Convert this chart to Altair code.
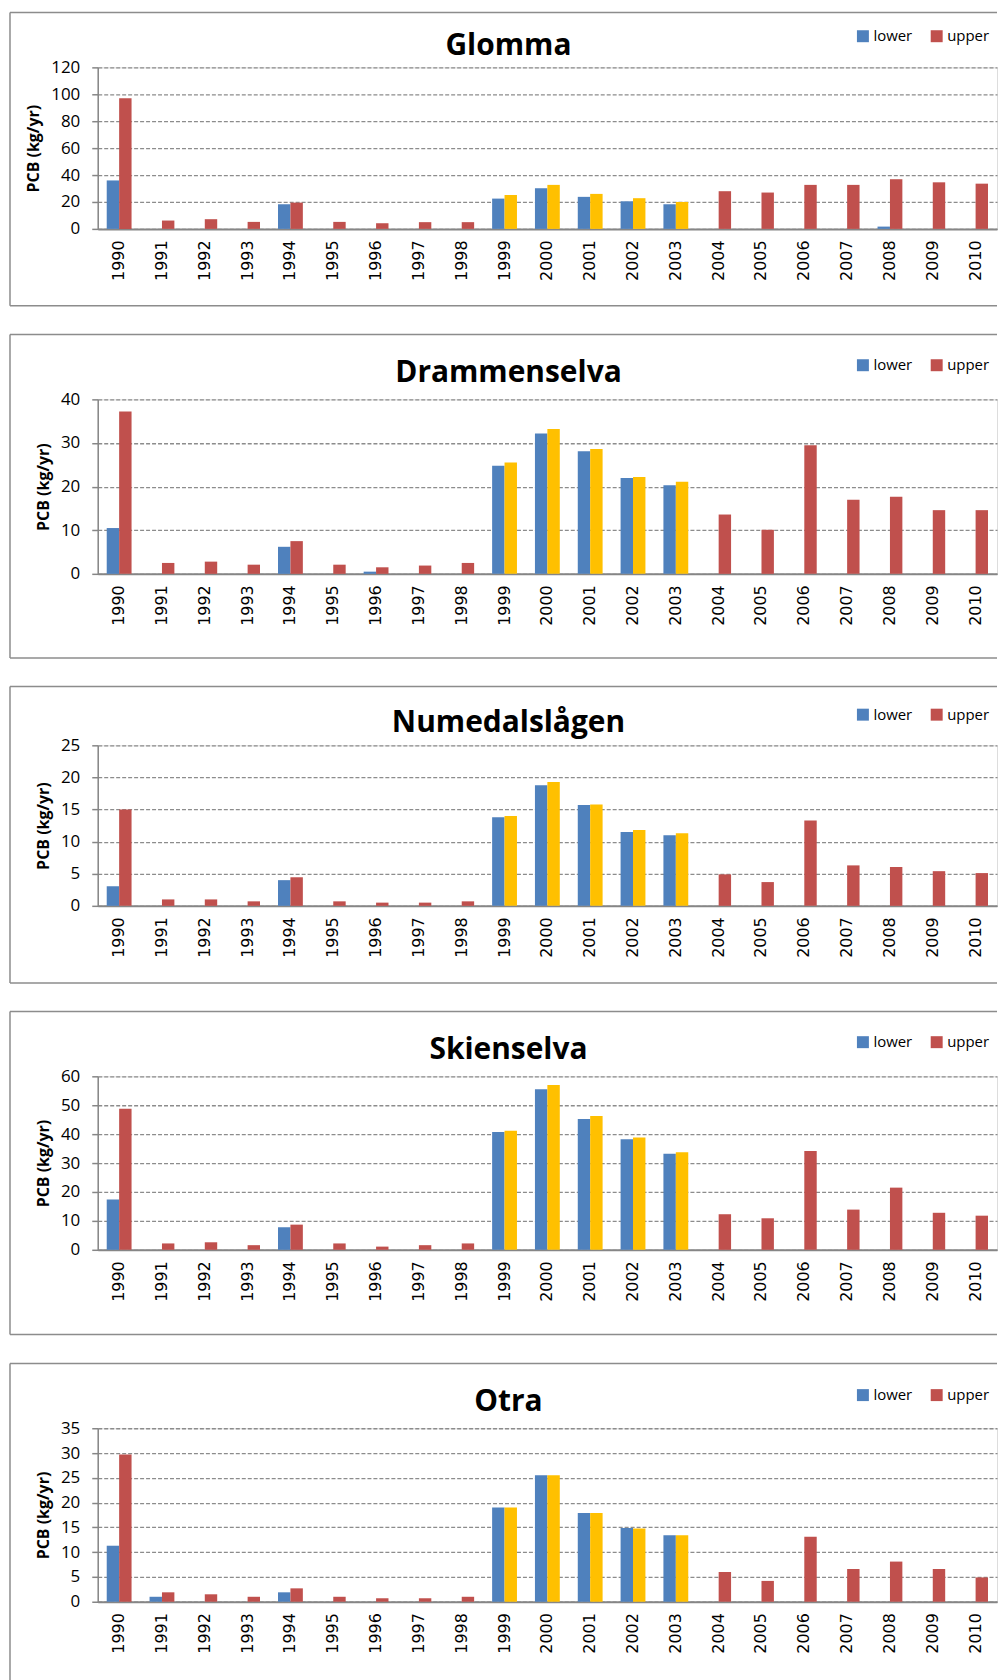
import altair as alt
import pandas as pd

years = list(range(1990, 2011))
yellow_years = [1999, 2000, 2001, 2002, 2003]

rivers = ["Glomma", "Drammenselva", "Numedalslågen", "Skienselva", "Otra"]

glomma_lower = [36, None, None, None, 18.3, None, None, None, None, 22.5, 30.2,
                23.8, 20.5, 18.3, None, None, None, None, 1.7, None, None]
glomma_upper = [97, 6.2, 7.2, 5.2, 19.5, 5.2, 4.2, 5, 5, 25.2, 32.7,
                26, 22.8, 20, 28, 27, 32.7, 32.7, 36.9, 34.6, 33.6]

dramm_lower = [10.5, None, None, None, 6.2, None, 0.5, None, None, 24.8, 32.2,
               28.1, 22.0, 20.3, None, None, None, None, None, None, None]
dramm_upper = [37.2, 2.5, 2.8, 2.1, 7.5, 2.1, 1.5, 1.9, 2.5, 25.5, 33.2,
               28.6, 22.2, 21.1, 13.6, 10.1, 29.5, 17.0, 17.7, 14.6, 14.6]

numed_lower = [3.05, None, None, None, 4.0, None, None, None, None, 13.8, 18.8,
               15.7, 11.5, 11.0, None, None, None, None, None, None, None]
numed_upper = [15.0, 1.0, 1.0, 0.7, 4.45, 0.7, 0.5, 0.5, 0.7, 14.0, 19.3,
               15.8, 11.8, 11.3, 4.9, 3.7, 13.3, 6.3, 6.05, 5.4, 5.1]

skien_lower = [17.4, None, None, None, 7.8, None, None, None, None, 40.7, 55.5,
               45.2, 38.2, 33.2, None, None, None, None, None, None, None]
skien_upper = [48.8, 2.2, 2.6, 1.6, 8.7, 2.2, 1.1, 1.6, 2.2, 41.2, 57.0,
               46.3, 38.8, 33.7, 12.3, 10.9, 34.2, 13.9, 21.5, 12.8, 11.8]

otra_lower = [11.3, 1.0, None, None, 1.9, None, None, None, None, 19.0, 25.5,
              17.9, 14.9, 13.4, None, None, None, None, None, None, None]
otra_upper = [29.7, 1.9, 1.5, 1.0, 2.7, 1.0, 0.7, 0.7, 1.0, 19.0, 25.5,
              17.9, 14.8, 13.4, 6.0, 4.2, 13.1, 6.6, 8.1, 6.6, 4.9]

lowers = [glomma_lower, dramm_lower, numed_lower, skien_lower, otra_lower]
uppers = [glomma_upper, dramm_upper, numed_upper, skien_upper, otra_upper]
y_max = [120, 40, 25, 60, 35]
y_step = [20, 10, 5, 10, 5]

# layout (pixels): plot height, frame top/bottom extents, title baseline above plot, legend y
layout = [
    dict(h=162, T=55, B=77, toff=12, ly=-39),
    dict(h=175, T=65, B=84.5, toff=17, ly=-42),
    dict(h=161, T=59, B=77.5, toff=13, ly=-38.5),
    dict(h=174, T=65, B=85, toff=17.5, ly=-42),
    dict(h=174, T=65, B=90, toff=17, ly=-41),
]

W = 902
LEFT = 88
BLUE, RED, YELLOW = "#4F81BD", "#C0504D", "#FFC000"
GRAY = "#868686"
FRAME = "#8c8c8c"


def make_df(lower, upper):
    rows = []
    for yr, lo, up in zip(years, lower, upper):
        if lo is not None:
            rows.append({"year": str(yr), "series": "lower", "colour": "lower", "value": lo})
        if up is not None:
            c = "upper2" if yr in yellow_years else "upper"
            rows.append({"year": str(yr), "series": "upper", "colour": c, "value": up})
    return pd.DataFrame(rows)


def one_row():
    return alt.Chart(pd.DataFrame({"k": [0]}))


def frame_rule(**enc):
    return one_row().mark_rule(color=FRAME, strokeWidth=1.5).encode(**enc)


def panel(name, lower, upper, ymax, ystep, lay):
    df = make_df(lower, upper)
    h = lay["h"]
    bars = alt.Chart(df).mark_bar().encode(
        x=alt.X(
            "year:N",
            sort=[str(y) for y in years],
            scale=alt.Scale(paddingInner=0.42, paddingOuter=0.21),
            axis=alt.Axis(
                title=None, labelAngle=270, labelFont="DejaVu Sans", labelFontSize=16,
                labelColor="black", ticks=False, domainColor=GRAY, domainWidth=2,
                labelPadding=11, grid=False,
            ),
        ),
        xOffset=alt.XOffset("series:N", scale=alt.Scale(domain=["lower", "upper"])),
        y=alt.Y(
            "value:Q",
            scale=alt.Scale(domain=[0, ymax], nice=False),
            axis=alt.Axis(
                values=list(range(0, ymax + 1, ystep)), title="PCB (kg/yr)",
                titleFont="Open Sans", titleFontSize=16, titleFontWeight="bold",
                titleColor="black", titlePadding=9,
                labelFont="Open Sans", labelFontSize=17, labelColor="black", labelPadding=12,
                domainColor=GRAY, domainWidth=1.5, tickColor=GRAY, tickSize=6, tickWidth=1.5,
                grid=True, gridColor="#8c8c8c", gridDash=[4, 2], gridWidth=1.3,
            ),
        ),
        color=alt.Color(
            "colour:N",
            scale=alt.Scale(domain=["lower", "upper", "upper2"], range=[BLUE, RED, YELLOW]),
            legend=alt.Legend(
                title=None, orient="none", legendX=760, legendY=lay["ly"],
                direction="horizontal", values=["lower", "upper"],
                symbolType="square", symbolSize=144, symbolStrokeWidth=0,
                labelFont="Open Sans", labelFontSize=15, labelColor="black",
                columnPadding=17, labelOffset=3, padding=0,
            ),
        ),
    )
    top = -lay["T"]
    bottom = h + lay["B"]
    frame_top = frame_rule(x=alt.value(-LEFT), x2=alt.value(W), y=alt.value(top))
    frame_left = frame_rule(x=alt.value(-LEFT), y=alt.value(top), y2=alt.value(bottom))
    frame_bottom = frame_rule(x=alt.value(-LEFT), x2=alt.value(W), y=alt.value(bottom))
    title = one_row().mark_text(
        font="Open Sans", fontSize=30, fontWeight="bold", color="black",
        align="center", baseline="alphabetic",
    ).encode(
        x=alt.value(W / 2 - 39), y=alt.value(-lay["toff"]), text=alt.value(name)
    )
    return alt.layer(frame_top, frame_left, frame_bottom, title, bars).properties(
        width=W, height=h,
    )


panels = [panel(n, lo, up, ym, st, lay)
          for n, lo, up, ym, st, lay in zip(rivers, lowers, uppers, y_max, y_step, layout)]

chart = alt.vconcat(*panels, spacing=25).resolve_scale(
    color="independent", x="independent", y="independent"
).properties(
    padding={"left": 0, "top": 0, "right": 0, "bottom": 0}
).configure_view(strokeWidth=0).configure(background="white")

chart.save("out.html", embed_options={"renderer": "svg", "actions": False})
